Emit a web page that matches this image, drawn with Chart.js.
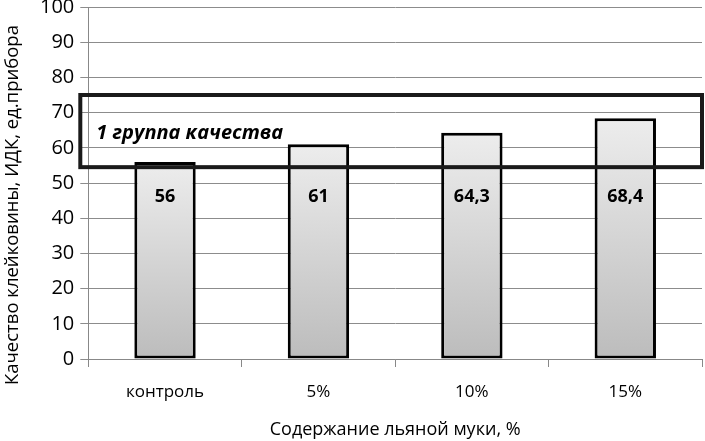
<!DOCTYPE html>
<html>
<head>
<meta charset="utf-8">
<script src="https://cdn.jsdelivr.net/npm/chart.js@4"></script>
<style>
  html, body { margin: 0; padding: 0; background: #fff; }
  #wrap { width: 705px; height: 441px; }
</style>
</head>
<body>
<div id="wrap"><canvas id="myChart"></canvas></div>
<script>
// data
const categories = ['контроль', '5%', '10%', '15%'];
const values = [56, 61, 64.3, 68.4];
const valueLabels = ['56', '61', '64,3', '68,4'];
const yTicks = [0, 10, 20, 30, 40, 50, 60, 70, 80, 90, 100];
const qualityBand = [54.5, 75];   // 1 группа качества
const bandLabel = '1 группа качества';
const labelLevel = 46;            // where the value labels sit
const yTitle = 'Качество клейковины, ИДК, ед.прибора';

const FONT = "'Open Sans', sans-serif";

// light at the top of each bar, darker at the base
function barFill(context) {
  const chart = context.chart;
  const ys = chart.scales && chart.scales.y;
  if (!chart.chartArea || !ys || context.parsed == null) return '#d6d6d6';
  const top = ys.getPixelForValue(context.parsed.y);
  const bottom = ys.getPixelForValue(0);
  if (!isFinite(top) || !isFinite(bottom) || top === bottom) return '#d6d6d6';
  const g = chart.ctx.createLinearGradient(0, top, 0, bottom);
  g.addColorStop(0, '#ededed');
  g.addColorStop(1, '#bcbcbc');
  return g;
}

const overlay = {
  id: 'overlay',
  afterDatasetsDraw(chart) {
    const ctx = chart.ctx;
    const y = chart.scales.y;
    const area = chart.chartArea;
    const meta = chart.getDatasetMeta(0);

    // value labels
    ctx.save();
    ctx.font = "bold 18px " + FONT;
    ctx.fillStyle = '#000';
    ctx.textAlign = 'center';
    ctx.textBaseline = 'middle';
    meta.data.forEach((bar, i) => {
      ctx.fillText(valueLabels[i], bar.x, y.getPixelForValue(labelLevel));
    });

    // quality band box
    const yt = y.getPixelForValue(qualityBand[1]);
    const yb = y.getPixelForValue(qualityBand[0]);
    ctx.lineWidth = 4;
    ctx.strokeStyle = '#1a1a1a';
    ctx.strokeRect(area.left - 8, yt, area.right - area.left + 8, yb - yt);
    ctx.font = "italic bold 20px " + FONT;
    ctx.textAlign = 'left';
    ctx.fillText(bandLabel, area.left + 8, (yt + yb) / 2 + 2);

    // y axis title
    ctx.font = "18.5px " + FONT;
    ctx.textAlign = 'center';
    ctx.translate(13, 205);
    ctx.rotate(-Math.PI / 2);
    ctx.fillText(yTitle, 0, 0);
    ctx.restore();
  }
};

const ctx = document.getElementById('myChart').getContext('2d');
const myChart = new Chart(ctx, {
  type: 'bar',
  data: {
    labels: categories,
    datasets: [{
      data: values,
      backgroundColor: barFill,
      borderColor: '#000',
      borderWidth: 3,
      borderSkipped: false,
      categoryPercentage: 1.0,
      barPercentage: 0.4
    }]
  },
  options: {
    responsive: true,
    maintainAspectRatio: false,
    animation: false,
    layout: { padding: { top: 7, right: 3, left: 34, bottom: 0 } },
    plugins: {
      legend: { display: false },
      tooltip: { enabled: false }
    },
    scales: {
      x: {
        grid: {
          offset: true,
          drawOnChartArea: false,
          color: '#888',
          tickLength: 8
        },
        border: { color: '#888' },
        ticks: { color: '#000', font: { family: FONT, size: 17 }, padding: 15 },
        title: {
          display: true,
          text: 'Содержание льяной муки, %',
          color: '#000',
          font: { family: FONT, size: 18 },
          padding: { top: 2, bottom: 0 }
        }
      },
      y: {
        min: 0,
        max: 100,
        afterBuildTicks(scale) { scale.ticks = yTicks.map(v => ({ value: v })); },
        afterFit(scale) { scale.paddingTop = 0; scale.paddingBottom = 0; },
        grid: { color: '#8c8c8c', tickLength: 8 },
        border: { color: '#888' },
        ticks: { color: '#000', font: { family: FONT, size: 20 }, padding: 6 }
      }
    }
  },
  plugins: [overlay]
});
</script>
</body>
</html>
